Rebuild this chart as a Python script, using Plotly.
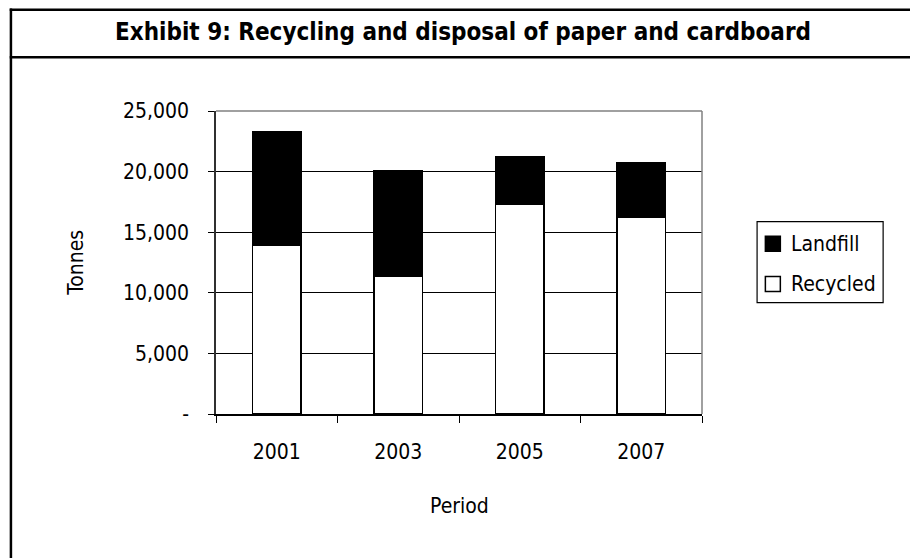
import plotly.graph_objects as go

# Waste data, tonnes
periods = ["2001", "2003", "2005", "2007"]
recycled = [13900, 11400, 17300, 16250]
landfill = [9400, 8650, 3950, 4450]
y_ticks = [0, 5000, 10000, 15000, 20000, 25000]
y_tick_text = ["-", "5,000", "10,000", "15,000", "20,000", "25,000"]

series = [
    ("Recycled", recycled, "#ffffff"),
    ("Landfill", landfill, "#000000"),
]

W, H = 910, 558
L, R, T, B = 215.5, 702.5, 111, 414
FONT = "DejaVu Sans Condensed, Tahoma, DejaVu Sans, sans-serif"


def px(x):
    return (x - L) / (R - L)


def py(y):
    return (B - y) / (B - T)


fig = go.Figure()
for name, vals, color in series:
    fig.add_trace(go.Bar(
        x=periods, y=vals, name=name,
        marker=dict(color=color, line=dict(color="#000000", width=1.5)),
        showlegend=False,
    ))

shapes = []
annotations = []

# outer frame: left edge, top edge, line under the heading
shapes += [
    dict(type="line", xref="paper", yref="paper", x0=px(10), x1=px(10), y0=py(8.5), y1=py(H + 5),
         line=dict(color="#000000", width=2.5)),
    dict(type="line", xref="paper", yref="paper", x0=px(8.8), x1=px(W + 5), y0=py(9.7), y1=py(9.7),
         line=dict(color="#000000", width=2.5)),
    dict(type="line", xref="paper", yref="paper", x0=px(8.8), x1=px(W + 5), y0=py(57.3), y1=py(57.3),
         line=dict(color="#000000", width=2.5)),
]
# grey top and right border of the plot area
shapes += [
    dict(type="line", xref="paper", yref="paper", x0=0, x1=1, y0=1, y1=1,
         line=dict(color="#808080", width=1.5)),
    dict(type="line", xref="paper", yref="paper", x0=1, x1=1, y0=0, y1=1,
         line=dict(color="#808080", width=1.5)),
]

annotations.append(dict(
    text="<b>Exhibit 9: Recycling and disposal of paper and cardboard</b>",
    xref="paper", yref="paper", x=px(463), y=py(32), xanchor="center", yanchor="middle",
    showarrow=False, font=dict(family=FONT, size=24, color="#000000"),
))
annotations.append(dict(
    text="Tonnes", xref="paper", yref="paper", x=px(75), y=py(263),
    xanchor="center", yanchor="middle", textangle=-90, showarrow=False,
    font=dict(family=FONT, size=21, color="#000000"),
))
annotations.append(dict(
    text="Period", xref="paper", yref="paper", x=px(459), y=py(506),
    xanchor="center", yanchor="middle", showarrow=False,
    font=dict(family=FONT, size=21, color="#000000"),
))

# legend box
lx0, lx1, ly0, ly1 = 757.7, 884, 221.7, 302.7
shapes.append(dict(type="rect", xref="paper", yref="paper", x0=px(lx0), x1=px(lx1),
                   y0=py(ly1), y1=py(ly0), line=dict(color="#000000", width=1.2),
                   fillcolor="#ffffff"))
legend_rows = [("Landfill", landfill, "#000000", 243.7), ("Recycled", recycled, "#ffffff", 284)]
for name, _vals, color, cy in legend_rows:
    shapes.append(dict(type="rect", xref="paper", yref="paper", x0=px(766), x1=px(781),
                       y0=py(cy + 7.5), y1=py(cy - 7.5), fillcolor=color,
                       line=dict(color="#000000", width=1.5)))
    annotations.append(dict(
        text=name, xref="paper", yref="paper", x=px(790), y=py(cy),
        xanchor="left", yanchor="middle", showarrow=False,
        font=dict(family=FONT, size=21, color="#000000"),
    ))

fig.update_layout(
    width=W, height=H, autosize=False,
    margin=dict(l=L, r=W - R, t=T, b=H - B, pad=0),
    paper_bgcolor="#ffffff", plot_bgcolor="#ffffff",
    barmode="stack", bargap=0.6,
    font=dict(family=FONT, size=21, color="#000000"),
    shapes=shapes, annotations=annotations,
    showlegend=False,
)
fig.update_xaxes(
    type="category", tickson="boundaries", ticks="outside", ticklen=7, tickwidth=1,
    tickcolor="#000000", showline=True, linecolor="#000000", linewidth=1.5,
    showgrid=False, zeroline=False, ticklabelstandoff=18,
    tickfont=dict(family=FONT, size=21, color="#000000"),
)
fig.update_yaxes(
    range=[0, 25000], tickvals=y_ticks, ticktext=y_tick_text,
    ticks="outside", ticklen=6, tickwidth=1, tickcolor="#000000",
    showline=True, linecolor="#303030", linewidth=1.5,
    showgrid=True, gridcolor="#000000", gridwidth=1, zeroline=False,
    ticklabelstandoff=15,
    tickfont=dict(family=FONT, size=21, color="#000000"),
)

fig.write_html("out.html")
